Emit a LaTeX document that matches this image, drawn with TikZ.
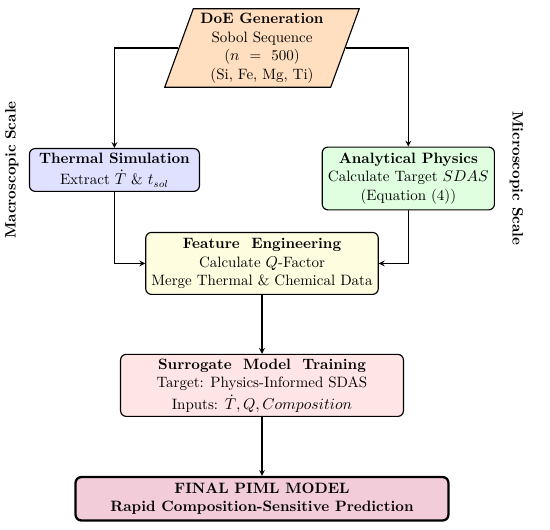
\documentclass[tikz,border=0pt]{standalone}
\usetikzlibrary{shapes.geometric}

\begin{document}
\begin{tikzpicture}[node distance=3cm, auto,
    every node/.style={font=\fontsize{10.5}{13}\selectfont},
    block/.style={rectangle, draw, thick, align=center, rounded corners=4pt, inner sep=4pt},
    io/.style={trapezium, trapezium left angle=70, trapezium right angle=110, draw, thick, fill=orange!25, align=center, inner xsep=5pt, inner ysep=3pt},
    line/.style={draw, thick, -stealth},
    scale label/.style={font=\fontsize{10.5}{13}\selectfont\bfseries}]
    \node [io] (doe) {\textbf{DoE Generation}\\Sobol Sequence\\($n$ \ = \ 500)\\(Si, Fe, Mg, Ti)};
    \node [block, below of=doe, xshift=-3.63cm, fill=blue!12, minimum width=119pt, inner ysep=3pt] (thermal) {\textbf{Thermal Simulation}\\[2pt]Extract $\dot{T}$ \& $t_{sol}$};
    \node [block, below of=doe, node distance=3.21cm, xshift=3.6cm, fill=green!12, minimum width=119pt] (physics) {\textbf{Analytical Physics}\\Calculate Target $SDAS$\\(Equation (4))};
    \node [block, below of=doe, node distance=5.3cm, fill=yellow!12] (feature) {\textbf{Feature\ \ Engineering}\\Calculate $Q$-Factor\\Merge Thermal \& Chemical Data};
    \node [block, below of=feature, fill=red!10, minimum width=198pt, inner ysep=3pt] (surrogate) {\textbf{Surrogate\ \ Model\ \ Training}\\Target: Physics-Informed SDAS\\[2pt]Inputs: $\dot{T}, Q, Composition$};
    \node [block, below of=surrogate, node distance=2.79cm, fill=purple!20, minimum width=261pt, line width=1.6pt] (final) {\textbf{FINAL PIML MODEL}\\\textbf{Rapid Composition-Sensitive Prediction}};
    \node [scale label, rotate=90] (macro) at ([xshift=-12pt]thermal.west) {Macroscopic Scale};
    \node [scale label, rotate=-90] (micro) at ([xshift=15pt]physics.east) {Microscopic Scale};

    \path [line] (doe.west) -| (thermal.north);
    \path [line] (doe.east) -| (physics.north);
    \path [line] (thermal.south) |- (feature.west);
    \path [line] (physics.south) |- (feature.east);
    \path [line] (feature) -- (surrogate);
    \path [line] (surrogate) -- (final);

    \useasboundingbox ([xshift=-183.4pt, yshift=33.6pt]doe.center) rectangle ([xshift=201.6pt, yshift=-337.4pt]doe.center);
\end{tikzpicture}
\end{document}
